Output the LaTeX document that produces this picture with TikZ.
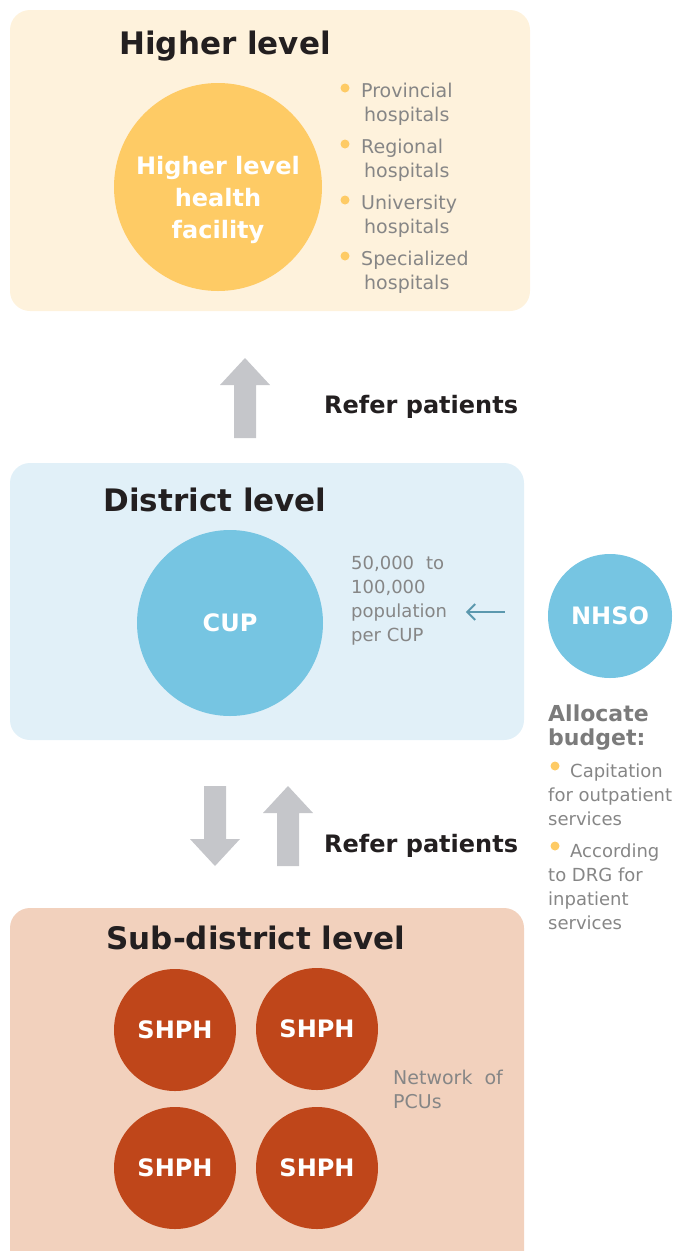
\documentclass[tikz,border=0pt]{standalone}
\usepackage{fontspec}
\setmainfont{DejaVu Sans}
\usetikzlibrary{arrows.meta}
\definecolor{highbg}{HTML}{FEF2DC}
\definecolor{highdot}{HTML}{FECB65}
\definecolor{distbg}{HTML}{E1F0F8}
\definecolor{cupblue}{HTML}{76C5E2}
\definecolor{subbg}{HTML}{F2D1BD}
\definecolor{shphred}{HTML}{BF461A}
\definecolor{blockgray}{HTML}{C5C6CA}
\definecolor{txtgray}{HTML}{868686}
\definecolor{darktxt}{HTML}{231F20}
\definecolor{thinblue}{HTML}{5B98AE}
\definecolor{budgetgray}{HTML}{7B7B7B}
\tikzset{
  levelbox/.style={rounded corners=20pt, draw=none},
  leveltitle/.style={font=\bfseries\fontsize{31}{36}\selectfont, text=darktxt, inner sep=0pt},
  disc/.style={circle, draw=none, inner sep=0pt, text=white, align=center,
    font=\bfseries\fontsize{24}{32}\selectfont},
  disctext/.style={inner sep=0pt, text=white, align=center,
    font=\bfseries\fontsize{24}{32}\selectfont},
  note/.style={font=\fontsize{19}{24}\selectfont, text=txtgray, align=left, inner sep=0pt, anchor=base west},
  smallnote/.style={note, font=\fontsize{18}{24}\selectfont},
  bullet/.style={circle, fill=highdot, minimum size=9pt, inner sep=0pt},
  refer/.style={font=\bfseries\fontsize{24}{28}\selectfont, text=darktxt, inner sep=0pt, anchor=base west},
  blockarrow/.style={fill=blockgray, draw=none},
}
\begin{document}
\begin{tikzpicture}[x=1pt, y=-1pt]
\useasboundingbox (0,0) rectangle (673,1251);

% ---- higher level ----
\fill[highbg, levelbox] (10,10) rectangle (530,311);
\node[leveltitle] (hightitle) at (225,46) {Higher level};
\node[disc, fill=highdot, minimum size=208pt] (hlf) at (218,187) {};
\node[disctext] (hlftext) at ([yshift=-13pt]hlf.center) {Higher level\\health\\facility};
\foreach \y/\a/\b [count=\i] in {91/Provincial/hospitals, 147/Regional/hospitals,
    203/University/hospitals, 259/Specialized/hospitals} {
  \node[bullet] (hb\i) at (345,\y-3) {};
  \node[note] (ht\i) at (361,\y+30) {\a\\\hspace{3pt}\b};
}

% ---- referral, district to higher ----
\coordinate (ua1) at (245,358);
\fill[blockarrow] (ua1) -- ++(25,27) -- ++(-14,0) -- ++(0,53) -- ++(-22,0)
  -- ++(0,-53) -- ++(-14,0) -- cycle;
\node[refer] (refer1) at (324,413) {Refer patients};

% ---- district level ----
\fill[distbg, levelbox] (10,463) rectangle (524,740);
\node[leveltitle] (disttitle) at (215,500) {District level};
\node[disc, fill=cupblue, minimum size=186pt] (cup) at (230,623) {CUP};
\node[smallnote] (pop) at (351,641) {50,000\hspace{12pt}to\\100,000\\population\\per CUP};

% ---- NHSO and budget ----
\node[disc, fill=cupblue, minimum size=124pt] (nhso) at (610,616) {NHSO};
\coordinate (thinstart) at ([xshift=-43pt, yshift=4pt]nhso.west);
\coordinate (thinend) at ([xshift=-39pt]thinstart);
\draw[thinblue, line width=2pt, -{Straight Barb[length=8pt, width=16pt]}]
  (thinstart) -- (thinend);
\node[font=\bfseries\fontsize{22}{24}\selectfont, text=budgetgray, align=left,
  inner sep=0pt, anchor=base west] (budget) at (548,745) {Allocate\\budget:};
\node[bullet] (bb1) at (555,766) {};
\node[smallnote] (cap) at (548,825) {\hspace{22pt}Capitation\\for outpatient\\services};
\node[bullet] (bb2) at (555,846) {};
\node[smallnote] (drg) at (548,929) {\hspace{22pt}According\\to DRG for\\inpatient\\services};

% ---- referral, district and sub-district ----
\coordinate (da1) at (215,866);
\fill[blockarrow] (da1) -- ++(25,-27) -- ++(-14,0) -- ++(0,-53) -- ++(-22,0)
  -- ++(0,53) -- ++(-14,0) -- cycle;
\coordinate (ua2) at (288,786);
\fill[blockarrow] (ua2) -- ++(25,27) -- ++(-14,0) -- ++(0,53) -- ++(-22,0)
  -- ++(0,-53) -- ++(-14,0) -- cycle;
\node[refer] (refer2) at (324,852) {Refer patients};

% ---- sub-district level (box runs off the bottom edge) ----
\begin{scope}
  \clip (0,0) rectangle (673,1251);
  \fill[subbg, levelbox] (10,908) rectangle (524,1290);
\end{scope}
\node[leveltitle] (subtitle) at (256,938) {Sub-district level};
\node[disc, fill=shphred, minimum size=122pt] (s1) at (175,1030) {SHPH};
\node[disc, fill=shphred, minimum size=122pt] (s2) at (317,1029) {SHPH};
\node[disc, fill=shphred, minimum size=122pt] (s3) at (175,1168) {SHPH};
\node[disc, fill=shphred, minimum size=122pt] (s4) at (317,1168) {SHPH};
\node[note] (pcu) at (393,1108) {Network\hspace{12pt}of\\PCUs};
\end{tikzpicture}
\end{document}
